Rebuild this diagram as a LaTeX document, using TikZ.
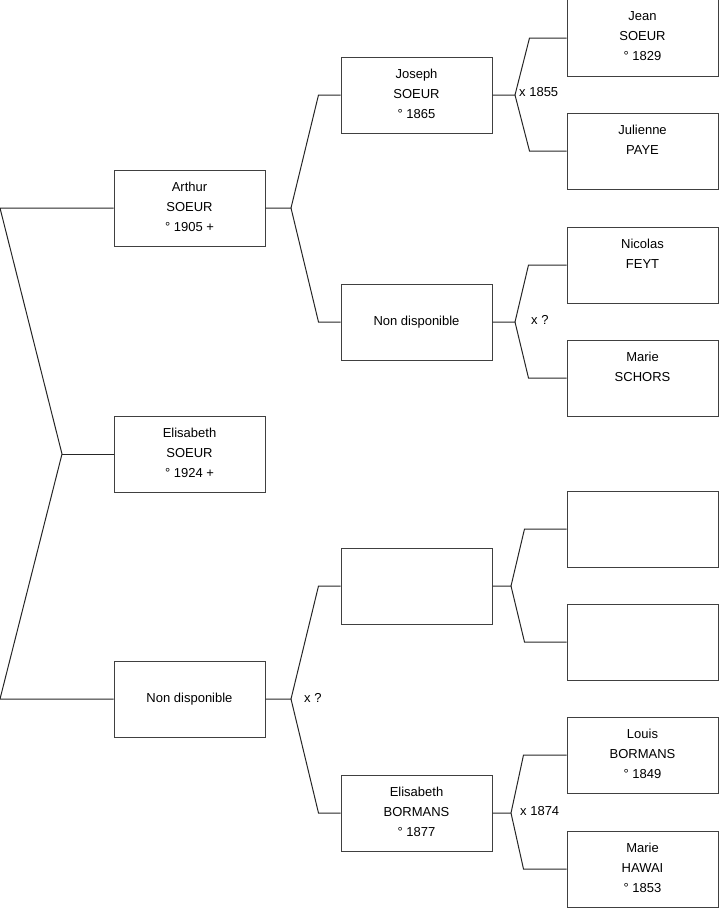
\documentclass[tikz,border=0pt]{standalone}
\usepackage{fontspec}
\setmainfont{Liberation Sans}
\begin{document}
\begin{tikzpicture}[x=1bp,y=-1bp,
  box/.style={draw=black!75,line width=1bp,rectangle,minimum width=151bp,minimum height=76bp,
    inner sep=0pt,align=center,font=\fontsize{13bp}{20bp}\selectfont,
    execute at end node={\rule[-3bp]{0pt}{0pt}}},
  link/.style={draw=black!85,line width=1bp},
  lbl/.style={anchor=west,inner sep=0pt,font=\fontsize{13bp}{16bp}\selectfont}]
\useasboundingbox (0,0) rectangle (719,908);
\coordinate (O) at (0,0);
% column 1
\node[box] (arthur) at (189.5,208) {Arthur\\SOEUR\\° 1905 +};
\node[box] (elis) at (189.5,454) {Elisabeth\\SOEUR\\° 1924 +};
\node[box] (nd1) at (189.5,699) {Non disponible};
% column 2
\node[box] (joseph) at (416.5,95) {Joseph\\SOEUR\\° 1865};
\node[box] (nd2) at (416.5,322) {Non disponible};
\node[box] (empty2) at (416.5,586) {};
\node[box] (elisb) at (416.5,813) {Elisabeth\\BORMANS\\° 1877};
% column 3
\node[box] (jean) at (642.5,38) {Jean\\SOEUR\\° 1829};
\node[box] (julienne) at (642.5,151) {Julienne\\PAYE\\\mbox{}};
\node[box] (nicolas) at (642.5,265) {Nicolas\\FEYT\\\mbox{}};
\node[box] (maries) at (642.5,378) {Marie\\SCHORS\\\mbox{}};
\node[box] (empty3a) at (642.5,529) {};
\node[box] (empty3b) at (642.5,642) {};
\node[box] (louis) at (642.5,755) {Louis\\BORMANS\\° 1849};
\node[box] (marieh) at (642.5,869) {Marie\\HAWAI\\° 1853};
% forks
\coordinate (root) at (62,454);
\coordinate (fA) at (291,208);
\coordinate (fN) at (291,699);
\coordinate (fJ) at (515,95);
\coordinate (fM) at (515,322);
\coordinate (fE) at (511,586);
\coordinate (fB) at (511,813);
% left bracket
\draw[link] (arthur.west) -- (arthur.west -| O) -- (root) -- (nd1.west -| O) -- (nd1.west);
\draw[link] (root) -- (elis.west);
% column 1 -> 2
\draw[link] (arthur.east) -- (fA) -- ([xshift=-22bp]joseph.west) -- (joseph.west);
\draw[link] (fA) -- ([xshift=-22bp]nd2.west) -- (nd2.west);
\draw[link] (nd1.east) -- (fN) -- ([xshift=-22bp]empty2.west) -- (empty2.west);
\draw[link] (fN) -- ([xshift=-22bp]elisb.west) -- (elisb.west);
% column 2 -> 3
\draw[link] (joseph.east) -- (fJ) -- ([xshift=-37bp]jean.west) -- (jean.west);
\draw[link] (fJ) -- ([xshift=-37bp]julienne.west) -- (julienne.west);
\draw[link] (nd2.east) -- (fM) -- ([xshift=-38bp]nicolas.west) -- (nicolas.west);
\draw[link] (fM) -- ([xshift=-38bp]maries.west) -- (maries.west);
\draw[link] (empty2.east) -- (fE) -- ([xshift=-42bp]empty3a.west) -- (empty3a.west);
\draw[link] (fE) -- ([xshift=-42bp]empty3b.west) -- (empty3b.west);
\draw[link] (elisb.east) -- (fB) -- ([xshift=-43bp]louis.west) -- (louis.west);
\draw[link] (fB) -- ([xshift=-43bp]marieh.west) -- (marieh.west);
% marriage labels
\node[lbl] (m1) at (519,92) {x 1855};
\node[lbl] (m2) at (531,320) {x ?};
\node[lbl] (m3) at (304,698) {x ?};
\node[lbl] (m4) at (520,811) {x 1874};
\end{tikzpicture}
\end{document}
